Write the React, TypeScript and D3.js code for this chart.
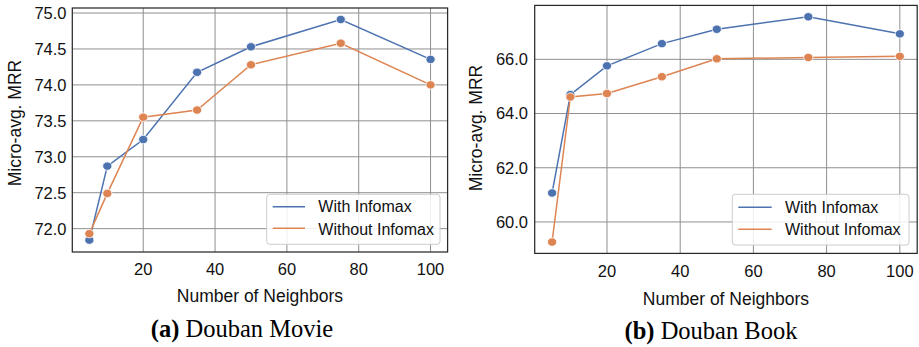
import React from "react";
import * as d3 from "d3";

const neighbors = [5, 10, 20, 35, 50, 75, 100];
const movieWith = [71.84, 72.87, 73.24, 74.175, 74.53, 74.91, 74.355];
const movieWithout = [71.93, 72.49, 73.55, 73.65, 74.28, 74.58, 74.0];
const bookWith = [61.07, 64.7, 65.76, 66.58, 67.11, 67.57, 66.94];
const bookWithout = [59.26, 64.61, 64.74, 65.36, 66.02, 66.07, 66.11];
const movieYTicks = [72.0, 72.5, 73.0, 73.5, 74.0, 74.5, 75.0];
const bookYTicks = [60.0, 62.0, 64.0, 66.0];
const xTicks = [20, 40, 60, 80, 100];
const seriesNames = ["With Infomax", "Without Infomax"];
const colors = ["#4c72b0", "#dd8452"];

const SANS = "'Liberation Sans', Arial, sans-serif";
const SERIF = "'Liberation Serif', 'Times New Roman', serif";

type PanelProps = {
  x0: number; x1: number; y0: number; y1: number;
  yDomain: [number, number];
  yTicks: number[];
  series: number[][];
  tickRight: number;
  xTickBase: number;
  xLabelBase: number;
  yLabelX: number;
  yLabelY: number;
  legend: { x0: number; x1: number; y0: number; y1: number; lx0: number; lx1: number; ly: number[]; tx: number; tb: number[] };
  capX: number; capY: number; capBold: string; capText: string;
};

function Panel(p: PanelProps) {
  const x = d3.scaleLinear().domain([0.25, 104.75]).range([p.x0, p.x1]);
  const y = d3.scaleLinear().domain(p.yDomain).range([p.y1, p.y0]);
  const line = d3.line<number>().x((_, i) => x(neighbors[i])).y((d) => y(d));
  return (
    <g>
      {xTicks.map((t) => (
        <line key={"gx" + t} x1={x(t)} x2={x(t)} y1={p.y0} y2={p.y1} stroke="#8f8f8f" strokeWidth={1} />
      ))}
      {p.yTicks.map((t) => (
        <line key={"gy" + t} x1={p.x0} x2={p.x1} y1={y(t)} y2={y(t)} stroke="#8f8f8f" strokeWidth={1} />
      ))}
      {p.series.map((s, si) => (
        <g key={"s" + si}>
          <path d={line(s) || ""} fill="none" stroke={colors[si]} strokeWidth={1.5} />
          {s.map((v, i) => (
            <ellipse key={i} cx={x(neighbors[i])} cy={y(v)} rx={4.6} ry={4.2} fill={colors[si]} stroke="#fff" strokeWidth={0.8} />
          ))}
        </g>
      ))}
      <rect x={p.x0} y={p.y0} width={p.x1 - p.x0} height={p.y1 - p.y0} fill="none" stroke="#2a2a2a" strokeWidth={1.25} />
      {p.yTicks.map((t) => (
        <text key={"ty" + t} x={p.tickRight} y={y(t)} dy="0.36em" textAnchor="end" fontFamily={SANS} fontSize={16.5} fill="#111">
          {d3.format(".1f")(t)}
        </text>
      ))}
      {xTicks.map((t) => (
        <text key={"tx" + t} x={x(t)} y={p.xTickBase} textAnchor="middle" fontFamily={SANS} fontSize={16.5} fill="#111">
          {t}
        </text>
      ))}
      <text x={(p.x0 + p.x1) / 2} y={p.xLabelBase} textAnchor="middle" fontFamily={SANS} fontSize={17.5} fill="#111">
        Number of Neighbors
      </text>
      <text transform={`translate(${p.yLabelX},${p.yLabelY}) rotate(-90)`} textAnchor="middle" fontFamily={SANS} fontSize={17.5} fill="#111">
        Micro-avg. MRR
      </text>
      <rect x={p.legend.x0} y={p.legend.y0} width={p.legend.x1 - p.legend.x0} height={p.legend.y1 - p.legend.y0} rx={3} fill="#fff" fillOpacity={0.85} stroke="#cccccc" strokeWidth={1} />
      {seriesNames.map((n, i) => (
        <g key={n}>
          <line x1={p.legend.lx0} x2={p.legend.lx1} y1={p.legend.ly[i]} y2={p.legend.ly[i]} stroke={colors[i]} strokeWidth={1.5} />
          <text x={p.legend.tx} y={p.legend.tb[i]} fontFamily={SANS} fontSize={16} fill="#111">{n}</text>
        </g>
      ))}
      <text x={p.capX} y={p.capY} textAnchor="middle" fontFamily={SERIF} fontSize={24.5} fill="#000">
        <tspan fontWeight="bold">{p.capBold}</tspan>
        <tspan>{" " + p.capText}</tspan>
      </text>
    </g>
  );
}

export default function App() {
  return (
    <svg width={919} height={347} style={{ position: "absolute", left: 0, top: 0, background: "#fff" }}>
      <rect x={0} y={0} width={919} height={347} fill="#fff" />
      <Panel
        x0={72.3} x1={447.6} y0={8} y1={252}
        yDomain={[71.675, 75.07]}
        yTicks={movieYTicks}
        series={[movieWith, movieWithout]}
        tickRight={66.5}
        xTickBase={275}
        xLabelBase={302}
        yLabelX={20.5}
        yLabelY={123}
        legend={{ x0: 266.7, x1: 440, y0: 194.3, y1: 244.3, lx0: 272.7, lx1: 305, ly: [206.7, 228.3], tx: 318.3, tb: [212.3, 234.5] }}
        capX={242} capY={337} capBold="(a)" capText="Douban Movie"
      />
      <Panel
        x0={534.7} x1={917.2} y0={5.4} y1={253.4}
        yDomain={[58.84, 67.99]}
        yTicks={bookYTicks}
        series={[bookWith, bookWithout]}
        tickRight={528}
        xTickBase={277}
        xLabelBase={304.5}
        yLabelX={481.5}
        yLabelY={128}
        legend={{ x0: 732.3, x1: 909, y0: 194.3, y1: 245, lx0: 738.3, lx1: 771.7, ly: [207.3, 229.3], tx: 785, tb: [212.8, 234.8] }}
        capX={711} capY={339} capBold="(b)" capText="Douban Book"
      />
    </svg>
  );
}
